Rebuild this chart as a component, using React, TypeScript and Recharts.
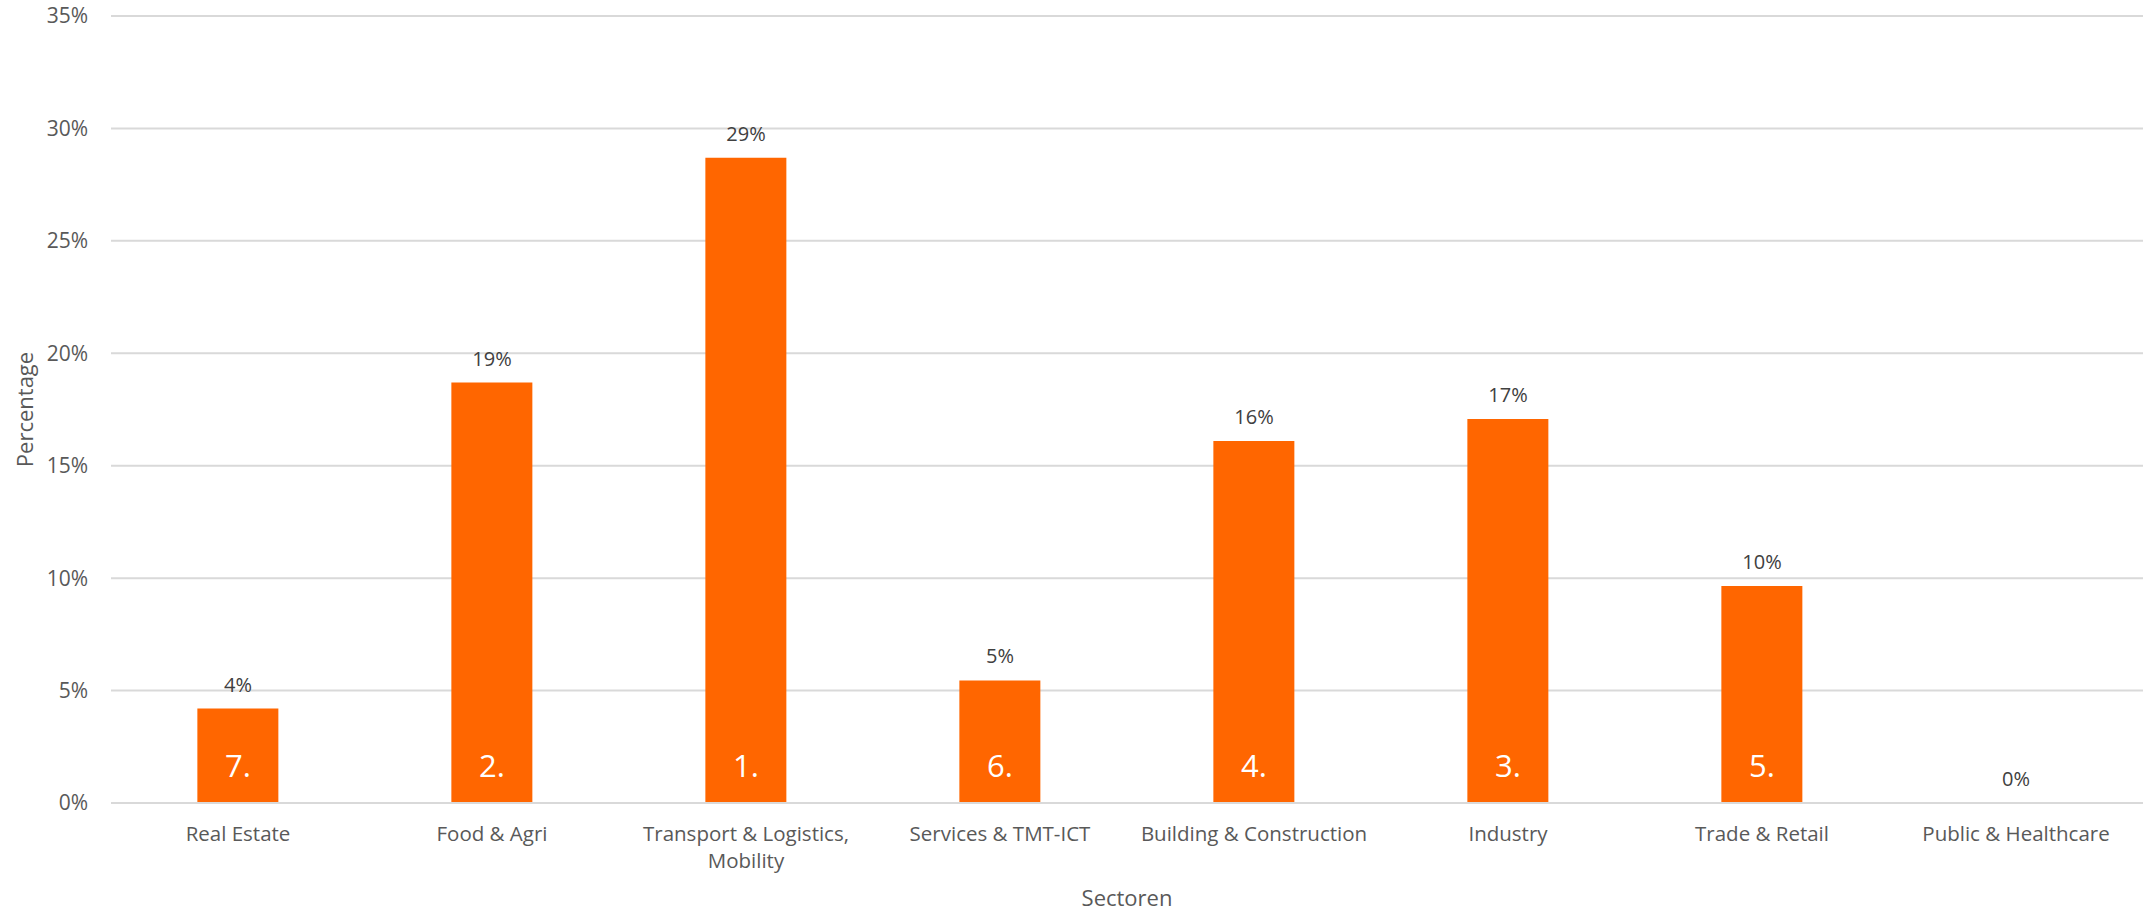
import { ComposedChart, Bar, Line, XAxis, YAxis, CartesianGrid, LabelList } from 'recharts';

const sectors = [
  'Real Estate',
  'Food & Agri',
  'Transport & Logistics, Mobility',
  'Services & TMT-ICT',
  'Building & Construction',
  'Industry',
  'Trade & Retail',
  'Public & Healthcare',
];
const shares = [4.2, 18.7, 28.7, 5.45, 16.1, 17.08, 9.65, 0];
const ranks = ['7.', '2.', '1.', '6.', '4.', '3.', '5.', ''];
const yTicks = [0, 5, 10, 15, 20, 25, 30, 35];

const data = sectors.map((sector, i) => ({ sector, share: shares[i], rank: ranks[i] }));

const FONT = '"Open Sans", sans-serif';

function SectorTick({ x, y, payload }: any) {
  const text: string = payload.value;
  const idx = text.indexOf(', ');
  const lines = idx >= 0 ? [text.slice(0, idx + 1), text.slice(idx + 2)] : [text];
  return (
    <text x={x} y={y + 30} textAnchor="middle" fill="#595959" fontSize={20.5} fontFamily={FONT}>
      {lines.map((l, i) => (
        <tspan key={i} x={x} dy={i === 0 ? 0 : 27}>{l}</tspan>
      ))}
    </text>
  );
}

function RankLabel({ x, y, width, height, value }: any) {
  if (!value) return null;
  return (
    <text x={x + width / 2} y={y + height - 26} textAnchor="middle" fill="#ffffff" fontSize={31} fontFamily={FONT}>
      {value}
    </text>
  );
}

// value labels hang off an invisible line so the 0% point gets one too
function ValueLabel({ x, y, value }: any) {
  return (
    <text x={x} y={y - 17} textAnchor="middle" fill="#404040" fontSize={20} fontFamily={FONT}>
      {`${Math.round(value)}%`}
    </text>
  );
}

export default function App() {
  return (
    <div style={{ position: 'absolute', left: 0, top: 0, background: '#fff' }}>
      <ComposedChart
        width={2148}
        height={915}
        data={data}
        margin={{ top: 16, right: 5, left: 0, bottom: 0 }}
        barCategoryGap="34%"
      >
        <CartesianGrid vertical={false} stroke="#d9d9d9" strokeWidth={2} />
        <XAxis
          dataKey="sector"
          height={112}
          tickLine={false}
          axisLine={{ stroke: '#d9d9d9', strokeWidth: 2 }}
          interval={0}
          tick={<SectorTick />}
          label={{ value: 'Sectoren', position: 'insideBottom', offset: 0, dy: -9, fill: '#595959', fontSize: 22, fontFamily: FONT }}
        />
        <YAxis
          width={111}
          domain={[0, 35]}
          ticks={yTicks}
          tickFormatter={(v: number) => `${v}%`}
          axisLine={false}
          tickLine={false}
          tickMargin={17}
          tick={{ fill: '#595959', fontSize: 21, fontFamily: FONT }}
          label={{ value: 'Percentage', angle: -90, position: 'insideLeft', offset: 25, fill: '#595959', fontSize: 22, fontFamily: FONT, style: { textAnchor: 'middle' } }}
        />
        <Bar dataKey="share" fill="#ff6600" isAnimationActive={false}>
          <LabelList dataKey="rank" content={<RankLabel />} />
        </Bar>
        <Line dataKey="share" stroke="none" dot={false} activeDot={false} isAnimationActive={false}>
          <LabelList dataKey="share" content={<ValueLabel />} />
        </Line>
      </ComposedChart>
    </div>
  );
}
